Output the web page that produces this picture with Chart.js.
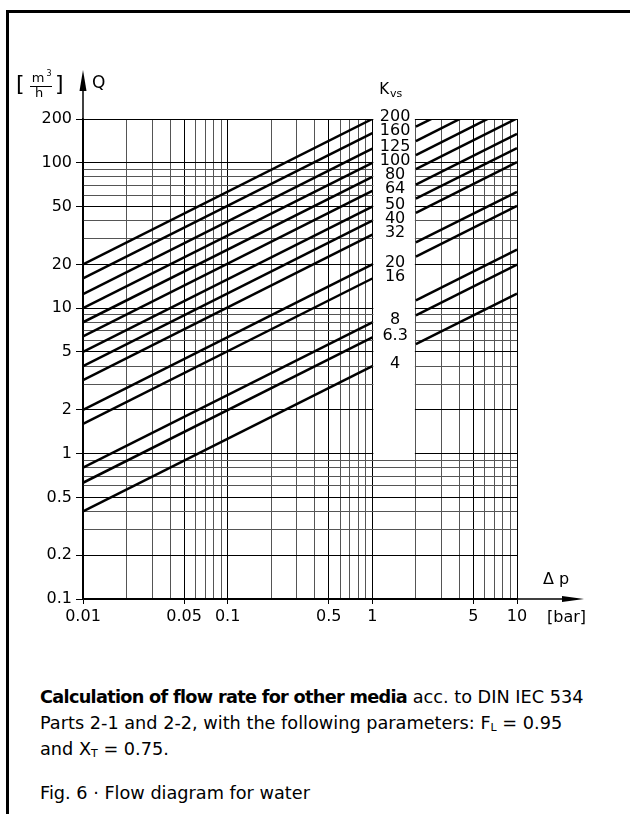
<!DOCTYPE html>
<html lang="en">
<head>
    <meta charset="UTF-8">
    <title>Flow diagram for water</title>
    <script src="https://cdn.jsdelivr.net/npm/chart.js"></script>
    <style>
        body {
            margin: 0;
            background: #fff;
            font-family: "DejaVu Sans", sans-serif;
        }
        .page {
            position: relative;
            width: 630px;
            height: 814px;
            overflow: hidden;
        }
        .frame {
            position: absolute;
            left: 6px;
            top: 10px;
            width: 700px;
            height: 900px;
            border-left: 3px solid #000;
            border-top: 3px solid #000;
        }
        #flowChart {
            position: absolute;
            left: 0;
            top: 0;
        }
        .caption {
            position: absolute;
            left: 40px;
            font-size: 17.7px;
            line-height: 26px;
            color: #000;
            white-space: nowrap;
        }
        .caption b { font-weight: bold; letter-spacing: -0.7px; }
        .caption sub { font-size: 11px; line-height: 0; vertical-align: -2px; }
    </style>
</head>
<body>
<div class="page">
    <div class="frame"></div>
    <canvas id="flowChart" width="630" height="650"></canvas>
    <div class="caption" style="top:684px">
        <b>Calculation of flow rate for other media</b> acc. to DIN IEC 534<br>
        Parts 2-1 and 2-2, with the following parameters: F<sub>L</sub> = 0.95<br>
        and X<sub>T</sub> = 0.75.
    </div>
    <div class="caption" style="top:780px">Fig. 6 · Flow diagram for water</div>
</div>

<script>
    // Kvs values of the valve lines
    const kvs = [4, 6.3, 8, 16, 20, 32, 40, 50, 64, 80, 100, 125, 160, 200];

    // left part of each line: from 0.01 bar to 1 bar
    const leftDp = [0.01, 1];
    const qAt001 = [0.4, 0.63, 0.8, 1.6, 2, 3.2, 4, 5, 6.4, 8, 10, 12.5, 16, 20];
    const qAt1 = [4, 6.3, 8, 16, 20, 32, 40, 50, 64, 80, 100, 125, 160, 200];

    // right part of each line: from 2 bar to 10 bar (cut off at 200)
    const rightDp = [2, 10];
    const qAt2 = [5.66, 8.91, 11.3, 22.6, 28.3, 45.3, 56.6, 70.7, 90.5, 113, 141, 177, 226, 283];
    const qAt10 = [12.6, 19.9, 25.3, 50.6, 63.2, 101, 126, 158, 202, 253, 316, 395, 506, 632];

    // grid lines and labelled ticks
    const xGrid = [0.01, 0.02, 0.03, 0.04, 0.05, 0.06, 0.07, 0.08, 0.09,
                   0.1, 0.2, 0.3, 0.4, 0.5, 0.6, 0.7, 0.8, 0.9,
                   1, 2, 3, 4, 5, 6, 7, 8, 9, 10];
    const xLabels = [0.01, 0.05, 0.1, 0.5, 1, 5, 10];
    const yGrid = [0.1, 0.2, 0.3, 0.4, 0.5, 0.6, 0.7, 0.8, 0.9,
                   1, 2, 3, 4, 5, 6, 7, 8, 9,
                   10, 20, 30, 40, 50, 60, 70, 80, 90,
                   100, 200];
    const yLabels = [0.1, 0.2, 0.5, 1, 2, 5, 10, 20, 50, 100, 200];

    const FONT = '"DejaVu Sans", sans-serif';

    const datasets = [];
    kvs.forEach((k, i) => {
        datasets.push({
            data: [{x: leftDp[0], y: qAt001[i]}, {x: leftDp[1], y: qAt1[i]}]
        });
        datasets.push({
            data: [{x: rightDp[0], y: qAt2[i]}, {x: rightDp[1], y: qAt10[i]}]
        });
    });
    datasets.forEach(ds => {
        ds.borderColor = '#000';
        ds.borderWidth = 2.5;
        ds.pointRadius = 0;
        ds.fill = false;
        ds.clip = 0;
    });

    const extras = {
        id: 'extras',
        beforeDatasetsDraw(chart) {
            // white column between 1 and 2 bar holding the Kvs labels
            const ctx = chart.ctx, x = chart.scales.x, y = chart.scales.y;
            const x1 = x.getPixelForValue(1), x2 = x.getPixelForValue(2);
            ctx.save();
            ctx.fillStyle = '#fff';
            ctx.fillRect(x1 + 1, chart.chartArea.top - 2, x2 - x1 - 2,
                y.getPixelForValue(0.95) - chart.chartArea.top + 2);
            ctx.restore();
        },
        afterDatasetsDraw(chart) {
            const ctx = chart.ctx, x = chart.scales.x, y = chart.scales.y;
            const cx = (x.getPixelForValue(1) + x.getPixelForValue(2)) / 2 + 1;
            ctx.save();
            ctx.fillStyle = '#000';
            ctx.textAlign = 'center';
            ctx.textBaseline = 'middle';
            ctx.font = '16px ' + FONT;
            kvs.forEach(k => {
                ctx.fillText(String(k), cx, y.getPixelForValue(k) - 2);
            });
            // K_vs header
            const top = chart.chartArea.top;
            ctx.font = '15px ' + FONT;
            ctx.textAlign = 'right';
            ctx.fillText('K', cx - 6, top - 29);
            ctx.font = '11px ' + FONT;
            ctx.textAlign = 'left';
            ctx.fillText('vs', cx - 5, top - 25);
            ctx.restore();
        },
        afterDraw(chart) {
            const ctx = chart.ctx, area = chart.chartArea;
            ctx.save();
            ctx.strokeStyle = '#000';
            ctx.fillStyle = '#000';
            ctx.lineWidth = 1.5;
            // y axis arrow
            ctx.beginPath();
            ctx.moveTo(area.left, area.top);
            ctx.lineTo(area.left, 86);
            ctx.stroke();
            ctx.beginPath();
            ctx.moveTo(area.left, 70);
            ctx.lineTo(area.left - 3.5, 91);
            ctx.lineTo(area.left + 3.5, 91);
            ctx.closePath();
            ctx.fill();
            // x axis arrow
            ctx.beginPath();
            ctx.moveTo(area.right, area.bottom);
            ctx.lineTo(566, area.bottom);
            ctx.stroke();
            ctx.beginPath();
            ctx.moveTo(584, area.bottom);
            ctx.lineTo(562, area.bottom - 3);
            ctx.lineTo(562, area.bottom + 3);
            ctx.closePath();
            ctx.fill();

            ctx.textBaseline = 'middle';
            ctx.textAlign = 'left';
            ctx.font = '17px ' + FONT;
            ctx.fillText('Q', 92, 84);
            ctx.font = '16px ' + FONT;
            ctx.fillText('\u0394 p', 543, 580);
            ctx.fillText('[bar]', 547, area.bottom + 19);

            // unit [m3/h]
            ctx.font = '22px ' + FONT;
            ctx.fillText('[', 16, 85);
            ctx.fillText(']', 55, 85);
            ctx.textAlign = 'center';
            ctx.font = '13px ' + FONT;
            ctx.fillText('m', 38, 79);
            ctx.fillText('h', 39, 94);
            ctx.font = '8px ' + FONT;
            ctx.fillText('3', 49, 74);
            ctx.lineWidth = 1;
            ctx.beginPath();
            ctx.moveTo(30, 86.5);
            ctx.lineTo(52, 86.5);
            ctx.stroke();
            ctx.restore();
        }
    };

    function gridColor(labels) {
        return c => (c.tick && labels.includes(c.tick.value)) ? '#000' : '#555';
    }
    function tickMarkColor(labels) {
        return c => (c.tick && labels.includes(c.tick.value)) ? '#000' : 'rgba(0,0,0,0)';
    }

    new Chart(document.getElementById('flowChart'), {
        type: 'line',
        data: { datasets: datasets },
        options: {
            responsive: false,
            animation: false,
            events: [],
            layout: { padding: { left: 0, top: 119, right: 113, bottom: 11 } },
            plugins: {
                legend: { display: false },
                tooltip: { enabled: false }
            },
            scales: {
                x: {
                    type: 'logarithmic',
                    min: 0.01,
                    max: 10,
                    afterBuildTicks: s => { s.ticks = xGrid.map(v => ({ value: v })); },
                    afterFit: s => { s.height = 40; },
                    ticks: {
                        autoSkip: false,
                        maxRotation: 0,
                        padding: 3,
                        color: '#000',
                        font: { family: FONT, size: 16 },
                        callback: v => xLabels.includes(v) ? String(v) : ''
                    },
                    grid: {
                        color: gridColor(xLabels),
                        lineWidth: 1,
                        tickLength: 5,
                        tickColor: tickMarkColor(xLabels)
                    },
                    border: { color: '#000', width: 1.5 }
                },
                y: {
                    type: 'logarithmic',
                    min: 0.1,
                    max: 200,
                    afterBuildTicks: s => { s.ticks = yGrid.map(v => ({ value: v })); },
                    afterFit: s => { s.width = 83; },
                    ticks: {
                        autoSkip: false,
                        padding: 4,
                        color: '#000',
                        font: { family: FONT, size: 16 },
                        callback: v => yLabels.includes(v) ? String(v) : ''
                    },
                    grid: {
                        color: gridColor(yLabels),
                        lineWidth: 1,
                        tickLength: 7,
                        tickColor: tickMarkColor(yLabels)
                    },
                    border: { color: '#000', width: 1.5 }
                }
            }
        },
        plugins: [extras]
    });
</script>
</body>
</html>
